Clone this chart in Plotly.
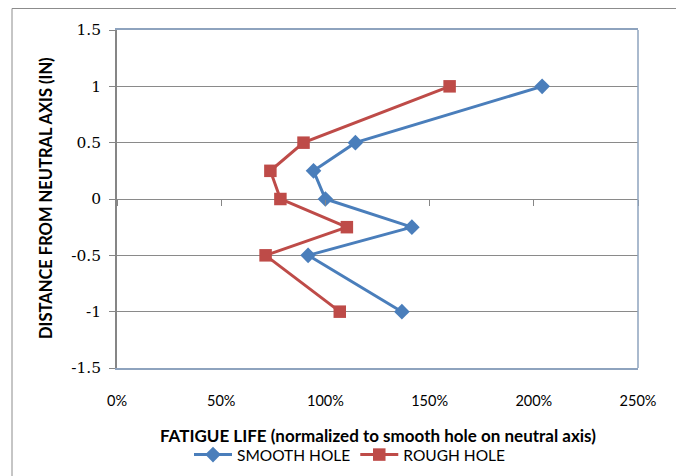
import plotly.graph_objects as go

distance = [1, 0.5, 0.25, 0, -0.25, -0.5, -1]
smooth_hole = [2.04, 1.144, 0.943, 1.00, 1.415, 0.917, 1.367]
rough_hole = [1.596, 0.895, 0.736, 0.784, 1.103, 0.713, 1.069]
x_ticks = [0, 0.5, 1.0, 1.5, 2.0, 2.5]
y_ticks = [-1.5, -1, -0.5, 0, 0.5, 1, 1.5]
y_tick_labels = ["-1.5", "-1", "-0.5", "0", "0.5", "1", "1.5"]

FONT = "Lato"
OFF = 8  # page body margin
W, H = 684 - OFF, 476 - OFF
L, R, T, B = 117, 638, 30, 368  # in page pixels
pw, ph = R - L, B - T
BORDER = "#8EA3BE"
AXIS = "#868686"

def px(xp):
    return (xp - L) / pw

def py(yp):
    return (B - yp) / ph

fig = go.Figure()
fig.add_trace(go.Scatter(
    x=smooth_hole, y=distance, name="SMOOTH HOLE", mode="lines+markers",
    line=dict(color="#4A7EBB", width=3),
    marker=dict(symbol="diamond", size=12, color="#4A7EBB"),
))
fig.add_trace(go.Scatter(
    x=rough_hole, y=distance, name="ROUGH HOLE", mode="lines+markers",
    line=dict(color="#BE4B48", width=3),
    marker=dict(symbol="square", size=12.5, color="#BE4B48"),
))
# invisible trace on overlay axis to show tick marks at y=0
fig.add_trace(go.Scatter(x=[0, 2.5], y=[0, 0], xaxis="x2", mode="none",
                         showlegend=False, hoverinfo="skip"))

fig.update_layout(
    width=W, height=H,
    margin=dict(l=L - OFF, r=684 - R, t=T - OFF, b=476 - B, autoexpand=False),
    paper_bgcolor="white", plot_bgcolor="white",
    font=dict(family=FONT, size=14, color="black"),
    xaxis=dict(range=[0, 2.5], tickvals=x_ticks, tickformat=".0%", automargin=False,
               showgrid=False, zeroline=False, showline=True, mirror=True,
               linecolor=BORDER, linewidth=1.5, ticks="", ticklabelstandoff=19,
               tickfont=dict(family=FONT, size=14.5)),
    xaxis2=dict(range=[0, 2.5], tickvals=x_ticks, overlaying="x", anchor="free",
                position=0.5, showticklabels=False, showgrid=False, zeroline=False,
                showline=False, ticks="outside", ticklen=6, tickcolor=AXIS,
                tickwidth=1, automargin=False),
    yaxis=dict(range=[-1.5, 1.5], tickvals=y_ticks, ticktext=y_tick_labels,
               automargin=False,
               showgrid=True, gridcolor="#8A8A8A", gridwidth=1, zeroline=False,
               showline=True, mirror=False, linecolor=AXIS, linewidth=1.5,
               ticks="outside", ticklen=6, tickcolor=AXIS, ticklabelstandoff=5,
               tickfont=dict(family="DejaVu Serif", size=15.5)),
    showlegend=True,
    legend=dict(orientation="h", x=px(350), y=py(455), xanchor="center",
                yanchor="middle", font=dict(family=FONT, size=15.5),
                bgcolor="rgba(0,0,0,0)", itemwidth=38, tracegroupgap=0),
    annotations=[
        dict(text="<b>FATIGUE LIFE (normalized to smooth hole on neutral axis)</b>",
             xref="paper", yref="paper", x=px(378), y=py(435), showarrow=False,
             xanchor="center", yanchor="middle", font=dict(family=FONT, size=17)),
        dict(text="<b>DISTANCE FROM NEUTRAL AXIS (IN)</b>", textangle=-90,
             xref="paper", yref="paper", x=px(46), y=py(198), showarrow=False,
             xanchor="center", yanchor="middle", font=dict(family=FONT, size=16.5)),
    ],
    shapes=[
        dict(type="rect", xref="paper", yref="paper",
             x0=px(12), x1=px(679), y0=py(490), y1=py(8.5),
             line=dict(color="#8C8C8C", width=1), layer="below"),
        dict(type="line", xref="paper", yref="paper", x0=1, x1=1, y0=0, y1=1,
             line=dict(color=BORDER, width=1.5), layer="above"),
    ],
)

fig.write_html("out.html")
